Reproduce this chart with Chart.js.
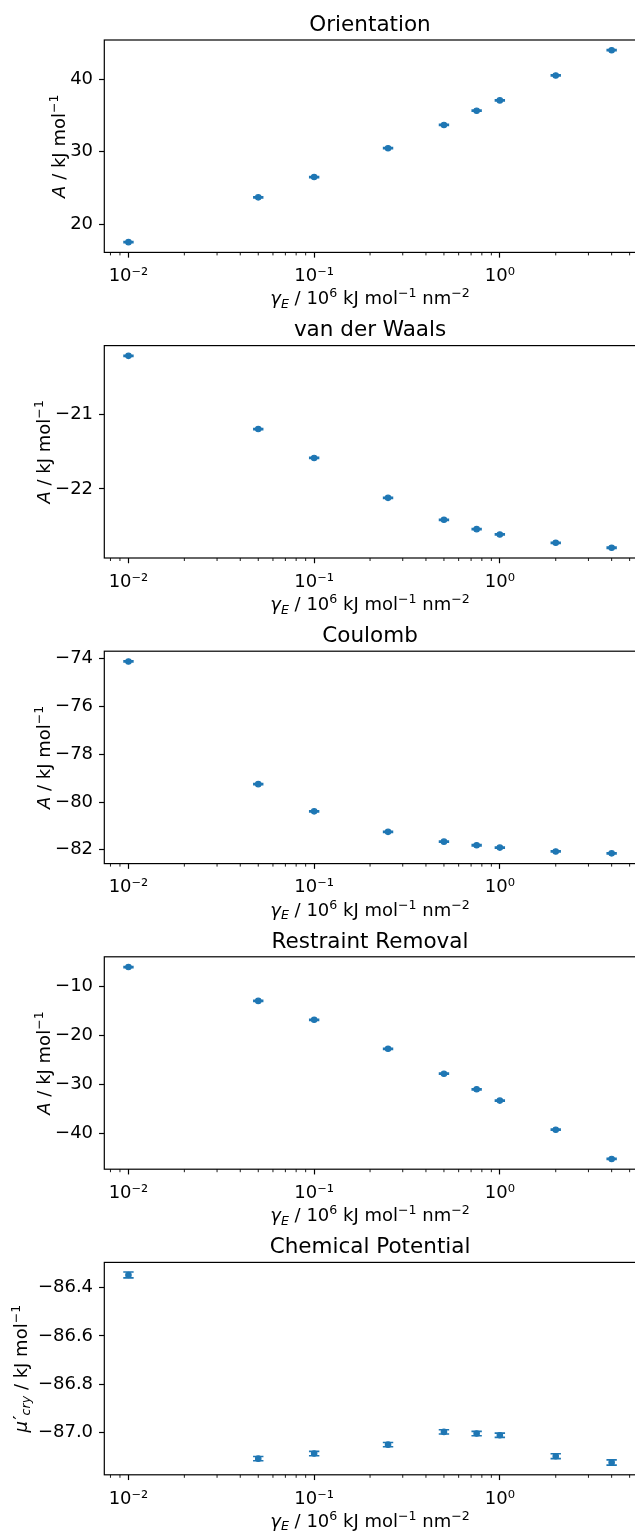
<!DOCTYPE html>
<html><head><meta charset="utf-8">
<script src="https://cdn.jsdelivr.net/npm/chart.js@4.4.0/dist/chart.umd.min.js"></script>
<style>
html,body{margin:0;padding:0;background:#fff;overflow:hidden;width:635px;height:1532px;position:relative;}
.panel{position:absolute;left:0;}
canvas{display:block;}
</style></head><body>
<div id="wrap"></div>
<script>
// ---------------- data ----------------
const gammaE = [0.01, 0.05, 0.1, 0.25, 0.5, 0.75, 1, 2, 4];

const orientation    = [17.52, 23.71, 26.52, 30.50, 33.71, 35.68, 37.10, 40.55, 44.03];
const orientationErr = [0.08, 0.08, 0.08, 0.08, 0.08, 0.08, 0.08, 0.08, 0.08];

const vdw    = [-20.206, -21.193, -21.583, -22.121, -22.417, -22.543, -22.615, -22.727, -22.794];
const vdwErr = [0.008, 0.008, 0.008, 0.008, 0.008, 0.008, 0.008, 0.008, 0.008];

const coulomb    = [-74.11, -79.25, -80.39, -81.25, -81.66, -81.81, -81.91, -82.07, -82.15];
const coulombErr = [0.025, 0.025, 0.025, 0.025, 0.025, 0.025, 0.025, 0.025, 0.025];

const restraint    = [-5.99, -12.91, -16.78, -22.71, -27.80, -30.99, -33.30, -39.25, -45.23];
const restraintErr = [0.12, 0.12, 0.12, 0.12, 0.12, 0.12, 0.12, 0.12, 0.12];

const chemPot    = [-86.347, -87.109, -87.088, -87.051, -86.998, -87.005, -87.012, -87.099, -87.125];
const chemPotErr = [0.012, 0.009, 0.009, 0.009, 0.009, 0.009, 0.009, 0.010, 0.011];

const titles = ['Orientation', 'van der Waals', 'Coulomb', 'Restraint Removal', 'Chemical Potential'];

const xMajorTicks  = [0.01, 0.1, 1];
const xMajorLabels = ['10\u207B\u00B2', '10\u207B\u00B9', '10\u2070'];
const xMinorTicks  = [0.008, 0.009, 0.02, 0.03, 0.04, 0.05, 0.06, 0.07, 0.08, 0.09,
                      0.2, 0.3, 0.4, 0.5, 0.6, 0.7, 0.8, 0.9, 2, 3, 4, 5];

const orientationTicks = [20, 30, 40];
const orientationTickLabels = ['20', '30', '40'];
const vdwTicks = [-21, -22];
const vdwTickLabels = ['\u221221', '\u221222'];
const coulombTicks = [-74, -76, -78, -80, -82];
const coulombTickLabels = ['\u221274', '\u221276', '\u221278', '\u221280', '\u221282'];
const restraintTicks = [-10, -20, -30, -40];
const restraintTickLabels = ['\u221210', '\u221220', '\u221230', '\u221240'];
const chemPotTicks = [-86.4, -86.6, -86.8, -87.0];
const chemPotTickLabels = ['\u221286.4', '\u221286.6', '\u221286.8', '\u221287.0'];

// ---------------- layout / style ----------------
const FONT = '"DejaVu Sans", "Liberation Sans", sans-serif';
const BLUE = '#1f77b4';
const PITCH = 305.6, AREA_TOP0 = 40, AREA_H = 212.4, AREA_LEFT = 104.3, AREA_RIGHT = 635.8;
const CANVAS_W = 640, CANVAS_H = 330;
const TICK_LEN = 5.25, MINOR_LEN = 3, TICK_PAD = 6, X_TICK_PAD = 8;
const FS = 18, TITLE_FS = 21.5;

const yLabelA = [{t:'A', it:true}, {t:' / kJ mol'}, {t:'\u22121', sup:true}];
const yLabelMu = [{t:'\u03BC', it:true}, {t:'\u2032', prime:true}, {t:'cry', it:true, sub:true}, {t:' / kJ mol'}, {t:'\u22121', sup:true}];
const xLabel = [{t:'\u03B3', it:true}, {t:'E', it:true, sub:true}, {t:' / 10'}, {t:'6', sup:true}, {t:' kJ mol'}, {t:'\u22121', sup:true}, {t:' nm'}, {t:'\u22122', sup:true}];

const panels = [
  {vals: orientation, err: orientationErr, ticks: orientationTicks, labels: orientationTickLabels, ylab: yLabelA, extra: 0},
  {vals: vdw, err: vdwErr, ticks: vdwTicks, labels: vdwTickLabels, ylab: yLabelA, extra: 0},
  {vals: coulomb, err: coulombErr, ticks: coulombTicks, labels: coulombTickLabels, ylab: yLabelA, extra: 0},
  {vals: restraint, err: restraintErr, ticks: restraintTicks, labels: restraintTickLabels, ylab: yLabelA, extra: 0},
  {vals: chemPot, err: chemPotErr, ticks: chemPotTicks, labels: chemPotTickLabels, ylab: yLabelMu, extra: 6},
];

function segFont(s) {
  const size = (s.sup || s.sub) ? FS * 0.7 : FS;
  return (s.it ? 'italic ' : '') + size + 'px ' + FONT;
}
function segAdvance(ctx, s) {
  ctx.font = segFont(s);
  return ctx.measureText(s.t).width + (s.prime ? 1.5 : 0);
}
function richWidth(ctx, segs) {
  let w = 0;
  for (const s of segs) w += segAdvance(ctx, s);
  return w;
}
function drawRich(ctx, segs, x, y) {
  ctx.textAlign = 'left'; ctx.textBaseline = 'alphabetic';
  for (const s of segs) {
    ctx.font = segFont(s);
    let dy = 0, dx = 0;
    if (s.sup) dy = -7;
    if (s.sub) dy = 3.6;
    if (s.prime) { dx = 1.5; dy = -1; }
    ctx.fillText(s.t, x + dx, y + dy);
    x += segAdvance(ctx, s);
  }
}

// matplotlib-like autoscale: 5% margins (log space for x)
const lx = gammaE.map(v => Math.log10(v));
const lmin = Math.min(...lx), lmax = Math.max(...lx), lm = (lmax - lmin) * 0.05;
const X_MIN = Math.pow(10, lmin - lm), X_MAX = Math.pow(10, lmax + lm);

const wrap = document.getElementById('wrap');

panels.forEach((p, i) => {
  const areaTop = AREA_TOP0 + i * PITCH;
  const top = Math.floor(i * PITCH);
  const h = CANVAS_H;
  const padTop = areaTop - top;
  const xAxisH = h - padTop - AREA_H;

  const lo = Math.min(...p.vals.map((v, k) => v - p.err[k]));
  const hi = Math.max(...p.vals.map((v, k) => v + p.err[k]));
  const m = (hi - lo) * 0.05;

  const div = document.createElement('div');
  div.className = 'panel';
  div.style.top = top + 'px';
  div.style.width = CANVAS_W + 'px';
  div.style.height = h + 'px';
  const cv = document.createElement('canvas');
  cv.width = CANVAS_W; cv.height = h;
  cv.style.width = CANVAS_W + 'px'; cv.style.height = h + 'px';
  div.appendChild(cv);
  wrap.appendChild(div);

  const deco = {
    id: 'deco' + i,
    beforeDatasetsDraw(chart) {
      const ctx = chart.ctx, xs = chart.scales.x, ys = chart.scales.y;
      ctx.save();
      ctx.strokeStyle = BLUE; ctx.lineWidth = 1.6;
      gammaE.forEach((g, k) => {
        const px = xs.getPixelForValue(g);
        const y1 = ys.getPixelForValue(p.vals[k] - p.err[k]);
        const y2 = ys.getPixelForValue(p.vals[k] + p.err[k]);
        ctx.beginPath();
        ctx.moveTo(px, y1); ctx.lineTo(px, y2);
        ctx.moveTo(px - 5.2, y1); ctx.lineTo(px + 5.2, y1);
        ctx.moveTo(px - 5.2, y2); ctx.lineTo(px + 5.2, y2);
        ctx.stroke();
      });
      ctx.restore();
    },
    afterDraw(chart) {
      const ctx = chart.ctx, a = chart.chartArea, xs = chart.scales.x;
      ctx.save();
      // spines
      ctx.strokeStyle = '#000'; ctx.lineWidth = 1.2;
      ctx.strokeRect(a.left, a.top, a.right - a.left, a.bottom - a.top);
      // minor ticks
      ctx.lineWidth = 0.9;
      ctx.beginPath();
      xMinorTicks.forEach(v => {
        if (v < X_MIN || v > X_MAX) return;
        const px = xs.getPixelForValue(v);
        ctx.moveTo(px, a.bottom); ctx.lineTo(px, a.bottom + MINOR_LEN);
      });
      ctx.stroke();
      ctx.fillStyle = '#000';
      const cx = (a.left + a.right) / 2;
      // title
      ctx.font = TITLE_FS + 'px ' + FONT;
      ctx.textAlign = 'center'; ctx.textBaseline = 'alphabetic';
      ctx.fillText(titles[i], cx, a.top - 9.3);
      // x label
      const xw = richWidth(ctx, xLabel);
      drawRich(ctx, xLabel, cx - xw / 2, a.bottom + 52);
      // y label
      ctx.font = FS + 'px ' + FONT;
      const maxW = Math.max(...p.labels.map(s => ctx.measureText(s).width));
      const base = a.left - TICK_LEN - TICK_PAD - maxW - 5 - p.extra;
      const yw = richWidth(ctx, p.ylab);
      ctx.translate(base, (a.top + a.bottom) / 2);
      ctx.rotate(-Math.PI / 2);
      drawRich(ctx, p.ylab, -yw / 2, 0);
      ctx.restore();
    }
  };

  new Chart(cv, {
    type: 'scatter',
    data: {
      datasets: [{
        data: gammaE.map((g, k) => ({x: g, y: p.vals[k]})),
        backgroundColor: BLUE, borderColor: BLUE,
        pointRadius: 2.7, pointBorderWidth: 1.2, pointHoverRadius: 2.7,
        showLine: false
      }]
    },
    options: {
      responsive: false, animation: false, devicePixelRatio: 1, events: [],
      layout: {padding: {top: padTop, left: 0, right: CANVAS_W - AREA_RIGHT, bottom: 0}},
      plugins: {legend: {display: false}, tooltip: {enabled: false}, title: {display: false}},
      scales: {
        x: {
          type: 'logarithmic', position: 'bottom', min: X_MIN, max: X_MAX,
          afterBuildTicks: s => {
            s.ticks = xMajorTicks.map(v => ({value: v, major: true}))
              .concat(xMinorTicks.filter(v => v >= X_MIN && v <= X_MAX).map(v => ({value: v})))
              .sort((u, w) => u.value - w.value);
          },
          afterFit: s => { s.height = xAxisH; },
          ticks: {
            autoSkip: false, maxRotation: 0, minRotation: 0, padding: X_TICK_PAD,
            font: {family: FONT, size: FS}, color: '#000',
            callback: v => { const k = xMajorTicks.indexOf(v); return k >= 0 ? xMajorLabels[k] : ''; }
          },
          grid: {
            display: true, drawOnChartArea: false, drawTicks: true,
            tickLength: TICK_LEN, tickWidth: 1.2,
            tickColor: c => (c.tick && xMajorTicks.indexOf(c.tick.value) >= 0) ? '#000' : 'rgba(0,0,0,0)'
          },
          border: {display: false},
          title: {display: false}
        },
        y: {
          type: 'linear', position: 'left', min: lo - m, max: hi + m,
          afterBuildTicks: s => { s.ticks = p.ticks.map(v => ({value: v})); },
          afterFit: s => { s.width = AREA_LEFT; },
          ticks: {
            autoSkip: false, padding: TICK_PAD,
            font: {family: FONT, size: FS}, color: '#000',
            callback: v => { const k = p.ticks.indexOf(v); return k >= 0 ? p.labels[k] : ''; }
          },
          grid: {display: true, drawOnChartArea: false, drawTicks: true, tickLength: TICK_LEN, tickWidth: 1.2, tickColor: '#000'},
          border: {display: false},
          title: {display: false}
        }
      }
    },
    plugins: [deco]
  });
});
</script>
</body></html>
